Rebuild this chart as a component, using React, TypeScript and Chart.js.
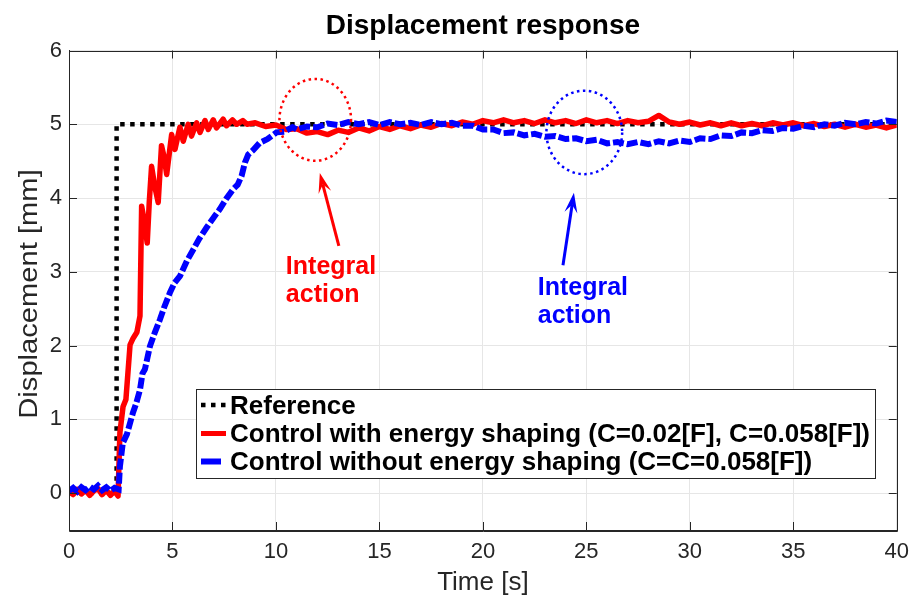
import React, { useEffect, useRef } from 'react';
import { Chart, registerables } from 'chart.js';

Chart.register(...registerables);

// ---------- data ----------
const xTickValues = [0, 5, 10, 15, 20, 25, 30, 35, 40];
const yTickValues = [0, 1, 2, 3, 4, 5, 6];

const seriesLabels = [
  'Reference',
  'Control with energy shaping (C=0.02[F], C=0.058[F])',
  'Control without energy shaping (C=C=0.058[F])',
];

const refTime = [0, 2.3, 2.3, 40];
const refValue = [0, 0, 5, 5];

const redTime = [
  0, 0.2, 0.4, 0.6, 0.8, 1.0, 1.2, 1.4, 1.6, 1.8, 2.0, 2.2, 2.37,
  2.46, 2.61, 2.75, 2.95, 3.1, 3.28, 3.43, 3.51, 3.6, 3.78, 3.88, 3.99, 4.15, 4.31, 4.47, 4.6, 4.72,
  4.96, 5.12, 5.36, 5.52, 5.76, 5.92, 6.17, 6.33, 6.57, 6.73, 6.97, 7.13, 7.45, 7.61, 7.9, 8.1, 8.4, 8.6,
  9.0, 9.5, 10.0, 10.5, 11.0, 11.5, 12.0, 12.5, 13.0, 13.5, 14.0, 14.5, 15.0, 15.5, 16.0, 16.5,
  17.0, 17.5, 18.0, 18.5, 19.0, 19.5, 20.0, 20.5, 21.0, 21.5, 22.0, 22.5, 23.0, 23.5, 24.0, 24.5,
  25.0, 25.5, 26.0, 26.5, 27.0, 27.5, 28.0, 28.5, 29.0, 29.5, 30.0, 30.5, 31.0, 31.5, 32.0, 32.5,
  33.0, 33.5, 34.0, 34.5, 35.0, 35.5, 36.0, 36.5, 37.0, 37.5, 38.0, 38.5, 39.0, 39.5, 40.0,
];
const redValue = [
  0.02, -0.02, 0.05, -0.01, 0.04, -0.03, 0.03, 0.06, -0.02, 0.04, -0.03, 0.03, -0.04,
  0.82, 1.17, 1.27, 2.01, 2.1, 2.18, 2.4, 3.89, 3.75, 3.39, 3.95, 4.43, 4.15, 3.94, 4.71, 4.55, 4.32,
  4.86, 4.66, 4.96, 4.77, 5.0, 4.84, 5.02, 4.89, 5.05, 4.93, 5.06, 4.95, 5.07, 4.98, 5.06, 5.0, 5.05, 5.0,
  5.02, 4.97, 4.99, 4.93, 4.94, 4.88, 4.9, 4.86, 4.92, 4.89, 4.95, 4.91, 4.97, 4.93, 4.98, 4.94,
  4.99, 4.96, 5.01, 4.98, 5.03, 5.0, 5.05, 5.02, 5.06, 5.02, 5.05, 5.01, 5.06, 5.02, 5.05, 5.01,
  5.06, 5.02, 5.05, 5.01, 5.05, 5.02, 5.04, 5.12, 5.03, 5.0, 5.03, 4.99, 5.02, 4.98, 5.02, 4.98,
  5.01, 4.98, 5.02, 4.99, 5.02, 4.98, 5.01, 4.97, 5.0, 4.96, 5.0, 4.96, 4.99, 4.95, 4.99,
];

const blueTime = [
  0, 0.2, 0.4, 0.6, 0.8, 1.0, 1.2, 1.4, 1.6, 1.8, 2.0, 2.2, 2.4,
  2.46, 2.6, 2.8, 3.09, 3.25, 3.43, 3.55, 3.67, 3.91, 4.15, 4.39, 4.6, 4.88, 5.1, 5.36, 5.7, 6.0,
  6.3, 6.65, 7.0, 7.29, 7.6, 7.93, 8.15, 8.34, 8.5, 8.66, 8.9, 9.22, 9.6, 10.03, 10.4, 10.8,
  11.0, 11.5, 12.0, 12.5, 13.0, 13.5, 14.0, 14.5, 15.0, 15.5, 16.0, 16.5, 17.0, 17.5, 18.0, 18.5,
  19.0, 19.5, 20.0, 20.5, 21.0, 21.5, 22.0, 22.5, 23.0, 23.5, 24.0, 24.5, 25.0, 25.5, 26.0, 26.5,
  27.0, 27.5, 28.0, 28.5, 29.0, 29.5, 30.0, 30.5, 31.0, 31.5, 32.0, 32.5, 33.0, 33.5, 34.0, 34.5,
  35.0, 35.5, 36.0, 36.5, 37.0, 37.5, 38.0, 38.5, 39.0, 39.5, 40.0,
];
const blueValue = [
  0.03, 0.07, 0.02, 0.08, 0.04, 0.09, 0.05, 0.1, 0.04, 0.08, 0.03, 0.07, 0.05,
  0.36, 0.68, 0.8, 1.09, 1.22, 1.4, 1.62, 1.68, 1.99, 2.18, 2.35, 2.52, 2.72, 2.85, 2.94, 3.15, 3.3,
  3.45, 3.6, 3.74, 3.85, 3.99, 4.12, 4.18, 4.3, 4.48, 4.59, 4.65, 4.75, 4.8, 4.89, 4.9, 4.96,
  4.93, 4.97, 4.96, 5.01, 4.99, 5.03, 5.0, 5.03, 4.99, 5.03, 5.0, 5.02, 4.99, 5.03, 5.0, 5.02,
  4.98, 4.98, 4.93, 4.93, 4.88, 4.89, 4.85, 4.87, 4.83, 4.84, 4.8, 4.81, 4.77, 4.79, 4.74, 4.76,
  4.73, 4.76, 4.73, 4.77, 4.74, 4.78, 4.76, 4.81, 4.8, 4.85, 4.84, 4.89, 4.88, 4.92, 4.91, 4.95,
  4.94, 4.98, 4.96, 5.0, 4.98, 5.02, 5.0, 5.03, 5.01, 5.05, 5.03,
];

// annotation anchors (data coordinates)
const ellipseCenters = [
  { t: 11.9, v: 5.06, rt: 1.73, rv: 0.555, color: '#ff0000' },
  { t: 24.9, v: 4.89, rt: 1.83, rv: 0.566, color: '#0000ff' },
];
const arrowLines = [
  { t0: 13.04, v0: 3.35, t1: 12.12, v1: 4.34, color: '#ff0000' },
  { t0: 23.87, v0: 3.09, t1: 24.4, v1: 4.07, color: '#0000ff' },
];
const noteTexts = [
  { t: 10.48, v: 2.965, lines: ['Integral', 'action'], color: '#ff0000' },
  { t: 22.65, v: 2.69, lines: ['Integral', 'action'], color: '#0000ff' },
];

const FONT = '"Liberation Sans", Arial, Helvetica, sans-serif';
const AX = '#262626';

const toPoints = (ts: number[], vs: number[]) => ts.map((t, i) => ({ x: t, y: vs[i] }));

const overlayPlugin = {
  id: 'overlay',
  beforeDraw(chart: any) {
    const ctx = chart.ctx;
    ctx.save();
    ctx.fillStyle = '#ffffff';
    ctx.fillRect(0, 0, chart.width, chart.height);
    ctx.restore();
  },
  afterDatasetsDraw(chart: any) {
    const { ctx, scales } = chart;
    const xs = scales.x;
    const ys = scales.y;
    ctx.save();
    // ellipses
    ellipseCenters.forEach((e) => {
      const cx = xs.getPixelForValue(e.t);
      const cy = ys.getPixelForValue(e.v);
      const rx = Math.abs(xs.getPixelForValue(e.t + e.rt) - cx);
      const ry = Math.abs(ys.getPixelForValue(e.v + e.rv) - cy);
      ctx.beginPath();
      ctx.ellipse(cx, cy, rx, ry, 0, 0, Math.PI * 2);
      ctx.strokeStyle = e.color;
      ctx.lineWidth = 2.5;
      ctx.setLineDash([2.5, 3.5]);
      ctx.stroke();
    });
    ctx.setLineDash([]);
    // arrows
    arrowLines.forEach((a) => {
      const x0 = xs.getPixelForValue(a.t0);
      const y0 = ys.getPixelForValue(a.v0);
      const x1 = xs.getPixelForValue(a.t1);
      const y1 = ys.getPixelForValue(a.v1);
      const ang = Math.atan2(y1 - y0, x1 - x0);
      const L = 20;
      const W = 6.5;
      const ux = Math.cos(ang), uy = Math.sin(ang);
      const px = -uy, py = ux;
      ctx.strokeStyle = a.color;
      ctx.fillStyle = a.color;
      ctx.lineWidth = 3;
      ctx.beginPath();
      ctx.moveTo(x0, y0);
      ctx.lineTo(x1 - ux * L * 0.6, y1 - uy * L * 0.6);
      ctx.stroke();
      ctx.beginPath();
      ctx.moveTo(x1, y1);
      ctx.lineTo(x1 - ux * L + px * W, y1 - uy * L + py * W);
      ctx.lineTo(x1 - ux * L * 0.6, y1 - uy * L * 0.6);
      ctx.lineTo(x1 - ux * L - px * W, y1 - uy * L - py * W);
      ctx.closePath();
      ctx.fill();
    });
    // notes
    noteTexts.forEach((n) => {
      const x = xs.getPixelForValue(n.t);
      const y = ys.getPixelForValue(n.v);
      ctx.fillStyle = n.color;
      ctx.font = `bold 25px ${FONT}`;
      ctx.textAlign = 'left';
      ctx.textBaseline = 'alphabetic';
      n.lines.forEach((l, i) => ctx.fillText(l, x, y + i * 28));
    });
    ctx.restore();
  },
  afterDraw(chart: any) {
    const { ctx, chartArea: ca, scales } = chart;
    const xs = scales.x;
    const ys = scales.y;
    ctx.save();
    // frame
    ctx.strokeStyle = AX;
    ctx.lineWidth = 1;
    ctx.beginPath();
    ctx.rect(Math.round(ca.left) + 0.5, Math.round(ca.top) + 0.5, Math.round(ca.right - ca.left), Math.round(ca.bottom - ca.top));
    ctx.stroke();
    // inner ticks
    const TL = 8;
    ctx.beginPath();
    xTickValues.forEach((t) => {
      const x = Math.round(xs.getPixelForValue(t)) + 0.5;
      ctx.moveTo(x, ca.bottom);
      ctx.lineTo(x, ca.bottom - TL);
      ctx.moveTo(x, ca.top);
      ctx.lineTo(x, ca.top + TL);
    });
    yTickValues.forEach((v) => {
      const y = Math.round(ys.getPixelForValue(v)) + 0.5;
      ctx.moveTo(ca.left, y);
      ctx.lineTo(ca.left + TL, y);
      ctx.moveTo(ca.right, y);
      ctx.lineTo(ca.right - TL, y);
    });
    ctx.stroke();

    // title
    const cxm = (ca.left + ca.right) / 2;
    ctx.fillStyle = '#000000';
    ctx.font = `bold 28px ${FONT}`;
    ctx.textAlign = 'center';
    ctx.textBaseline = 'alphabetic';
    ctx.fillText('Displacement response', cxm, 34);

    // axis titles
    ctx.fillStyle = AX;
    ctx.font = `26px ${FONT}`;
    ctx.fillText('Time [s]', cxm, 590);
    ctx.save();
    ctx.translate(37, 294);
    ctx.rotate(-Math.PI / 2);
    ctx.scale(1.1, 1);
    ctx.font = `26.5px ${FONT}`;
    ctx.fillText('Displacement [mm]', 0, 0);
    ctx.restore();

    // legend
    const bx = 196, by = 389, bw = 679, bh = 89;
    ctx.fillStyle = '#ffffff';
    ctx.fillRect(bx, by, bw, bh);
    ctx.strokeStyle = AX;
    ctx.lineWidth = 1;
    ctx.strokeRect(bx + 0.5, by + 0.5, bw, bh);
    const rows = [405, 433.5, 461.5];
    const colors = ['#000000', '#ff0000', '#0000ff'];
    rows.forEach((ry, i) => {
      ctx.strokeStyle = colors[i];
      ctx.lineCap = 'butt';
      ctx.beginPath();
      if (i === 0) {
        ctx.lineWidth = 4.5;
        ctx.setLineDash([4.5, 5.5]);
        ctx.moveTo(201, ry);
        ctx.lineTo(229, ry);
      } else if (i === 1) {
        ctx.lineWidth = 5;
        ctx.setLineDash([]);
        ctx.moveTo(201, ry);
        ctx.lineTo(226, ry);
      } else {
        ctx.lineWidth = 6;
        ctx.setLineDash([]);
        ctx.moveTo(201, ry);
        ctx.lineTo(221, ry);
      }
      ctx.stroke();
      ctx.setLineDash([]);
      ctx.fillStyle = '#000000';
      ctx.font = `bold 26px ${FONT}`;
      ctx.textAlign = 'left';
      ctx.textBaseline = 'alphabetic';
      ctx.fillText(seriesLabels[i], 230, ry + 8.5);
    });
    ctx.restore();
  },
};

export default function App() {
  const canvasRef = useRef<HTMLCanvasElement | null>(null);

  useEffect(() => {
    const canvas = canvasRef.current;
    if (!canvas) return;
    const chart = new Chart(canvas, {
      type: 'scatter',
      data: {
        datasets: [
          {
            label: seriesLabels[0],
            data: toPoints(refTime, refValue),
            showLine: true,
            borderColor: '#000000',
            borderWidth: 4.5,
            borderDash: [4.5, 5.5],
            borderCapStyle: 'butt',
            pointRadius: 0,
            tension: 0,
            order: 3,
          },
          {
            label: seriesLabels[1],
            data: toPoints(redTime, redValue),
            showLine: true,
            borderColor: '#ff0000',
            borderWidth: 5.5,
            pointRadius: 0,
            tension: 0,
            borderJoinStyle: 'round',
            order: 2,
          },
          {
            label: seriesLabels[2],
            data: toPoints(blueTime, blueValue),
            showLine: true,
            borderColor: '#0000ff',
            borderWidth: 6,
            borderDash: [11, 3],
            borderCapStyle: 'butt',
            pointRadius: 0,
            tension: 0,
            order: 1,
          },
        ],
      },
      options: {
        responsive: false,
        animation: false,
        devicePixelRatio: 1,
        events: [],
        layout: { padding: { left: 0, top: 50.5, right: 20.5, bottom: 0 } },
        plugins: {
          legend: { display: false },
          title: { display: false },
          tooltip: { enabled: false },
        },
        scales: {
          x: {
            type: 'linear',
            min: 0,
            max: 40,
            afterBuildTicks: (s: any) => {
              s.ticks = xTickValues.map((v) => ({ value: v }));
            },
            afterFit: (s: any) => {
              s.height = 68;
            },
            grid: { color: '#e6e6e6', lineWidth: 1, drawTicks: false },
            border: { display: true, color: AX, width: 1 },
            ticks: {
              autoSkip: false,
              maxRotation: 0,
              padding: 9,
              color: AX,
              font: { family: FONT, size: 22 },
            },
          },
          y: {
            type: 'linear',
            min: -0.5,
            max: 6,
            afterBuildTicks: (s: any) => {
              s.ticks = yTickValues.map((v) => ({ value: v }));
            },
            afterFit: (s: any) => {
              s.width = 69;
            },
            grid: { color: '#e6e6e6', lineWidth: 1, drawTicks: false },
            border: { display: true, color: AX, width: 1 },
            ticks: {
              autoSkip: false,
              padding: 7,
              color: AX,
              font: { family: FONT, size: 22 },
            },
          },
        },
      },
      plugins: [overlayPlugin],
    } as any);
    return () => chart.destroy();
  }, []);

  return (
    <div style={{ position: 'absolute', left: 0, top: 0, width: 918, height: 598, background: '#fff' }}>
      <canvas ref={canvasRef} width={918} height={598} style={{ display: 'block', width: 918, height: 598 }} />
    </div>
  );
}
